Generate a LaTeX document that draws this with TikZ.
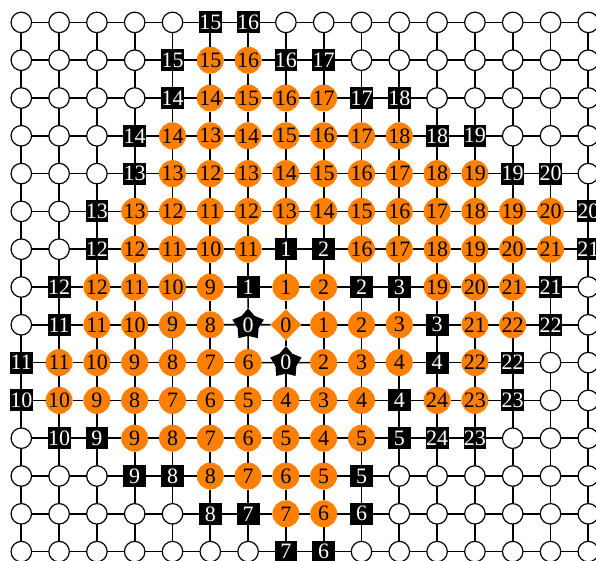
\documentclass[tikz,border=0pt]{standalone}
\usepackage{fontspec}
\setmainfont{Liberation Serif}
\usetikzlibrary{shapes.geometric}
\definecolor{gridorange}{RGB}{255,128,0}
\tikzset{
  base/.style={inner sep=0pt, outer sep=0pt, font=\fontsize{22}{22}\selectfont},
  wn/.style={base, circle, draw=black, line width=1.2pt, fill=white, minimum size=20.5pt},
  bk/.style={base, rectangle, fill=black, text=white, minimum width=22.8pt, minimum height=22pt},
  og/.style={base, circle, fill=gridorange, text=black, minimum size=27pt},
  sr/.style={base, star, star points=5, star point ratio=1.5, fill=black, text=white, minimum size=33pt},
  dm/.style={base, diamond, fill=gridorange, text=black, minimum size=31pt},
  link/.style={line width=1.7pt, black}
}
\newcommand{\gridrow}[2]{%
  \foreach \t/\l [count=\ci from 0] in {#2}
    \node[\t] (n-#1-\ci) at ({21.3+37.8*\ci},{22.4+37.8*#1}) {\l};%
}
\begin{document}
\begin{tikzpicture}[x=1pt,y=-1pt]
\useasboundingbox (0,0) rectangle (596,560);
\fill[white] (0,0) rectangle (596,560);
\clip (0,0) rectangle (596,560);
\gridrow{0}{wn/{},wn/{},wn/{},wn/{},wn/{},bk/15,bk/16,wn/{},wn/{},wn/{},wn/{},wn/{},wn/{},wn/{},wn/{},wn/{}}
\gridrow{1}{wn/{},wn/{},wn/{},wn/{},bk/15,og/15,og/16,bk/16,bk/17,wn/{},wn/{},wn/{},wn/{},wn/{},wn/{},wn/{}}
\gridrow{2}{wn/{},wn/{},wn/{},wn/{},bk/14,og/14,og/15,og/16,og/17,bk/17,bk/18,wn/{},wn/{},wn/{},wn/{},wn/{}}
\gridrow{3}{wn/{},wn/{},wn/{},bk/14,og/14,og/13,og/14,og/15,og/16,og/17,og/18,bk/18,bk/19,wn/{},wn/{},wn/{}}
\gridrow{4}{wn/{},wn/{},wn/{},bk/13,og/13,og/12,og/13,og/14,og/15,og/16,og/17,og/18,og/19,bk/19,bk/20,wn/{}}
\gridrow{5}{wn/{},wn/{},bk/13,og/13,og/12,og/11,og/12,og/13,og/14,og/15,og/16,og/17,og/18,og/19,og/20,bk/20}
\gridrow{6}{wn/{},wn/{},bk/12,og/12,og/11,og/10,og/11,bk/1,bk/2,og/16,og/17,og/18,og/19,og/20,og/21,bk/21}
\gridrow{7}{wn/{},bk/12,og/12,og/11,og/10,og/9,bk/1,og/1,og/2,bk/2,bk/3,og/19,og/20,og/21,bk/21,wn/{}}
\gridrow{8}{wn/{},bk/11,og/11,og/10,og/9,og/8,sr/0,dm/0,og/1,og/2,og/3,bk/3,og/21,og/22,bk/22,wn/{}}
\gridrow{9}{bk/11,og/11,og/10,og/9,og/8,og/7,og/6,sr/0,og/2,og/3,og/4,bk/4,og/22,bk/22,wn/{},wn/{}}
\gridrow{10}{bk/10,og/10,og/9,og/8,og/7,og/6,og/5,og/4,og/3,og/4,bk/4,og/24,og/23,bk/23,wn/{},wn/{}}
\gridrow{11}{wn/{},bk/10,bk/9,og/9,og/8,og/7,og/6,og/5,og/4,og/5,bk/5,bk/24,bk/23,wn/{},wn/{},wn/{}}
\gridrow{12}{wn/{},wn/{},wn/{},bk/9,bk/8,og/8,og/7,og/6,og/5,bk/5,wn/{},wn/{},wn/{},wn/{},wn/{},wn/{}}
\gridrow{13}{wn/{},wn/{},wn/{},wn/{},wn/{},bk/8,bk/7,og/7,og/6,bk/6,wn/{},wn/{},wn/{},wn/{},wn/{},wn/{}}
\gridrow{14}{wn/{},wn/{},wn/{},wn/{},wn/{},wn/{},wn/{},bk/7,bk/6,wn/{},wn/{},wn/{},wn/{},wn/{},wn/{},wn/{}}
\foreach \r in {0,...,14}{%
  \foreach \cc in {0,...,14}{%
    \pgfmathtruncatemacro{\nx}{\cc+1}%
    \draw[link] (n-\r-\cc) -- (n-\r-\nx);%
  }%
}
\foreach \r in {0,...,13}{%
  \pgfmathtruncatemacro{\ny}{\r+1}%
  \foreach \cc in {0,...,15}{%
    \draw[link] (n-\r-\cc) -- (n-\ny-\cc);%
  }%
}
\end{tikzpicture}
\end{document}
